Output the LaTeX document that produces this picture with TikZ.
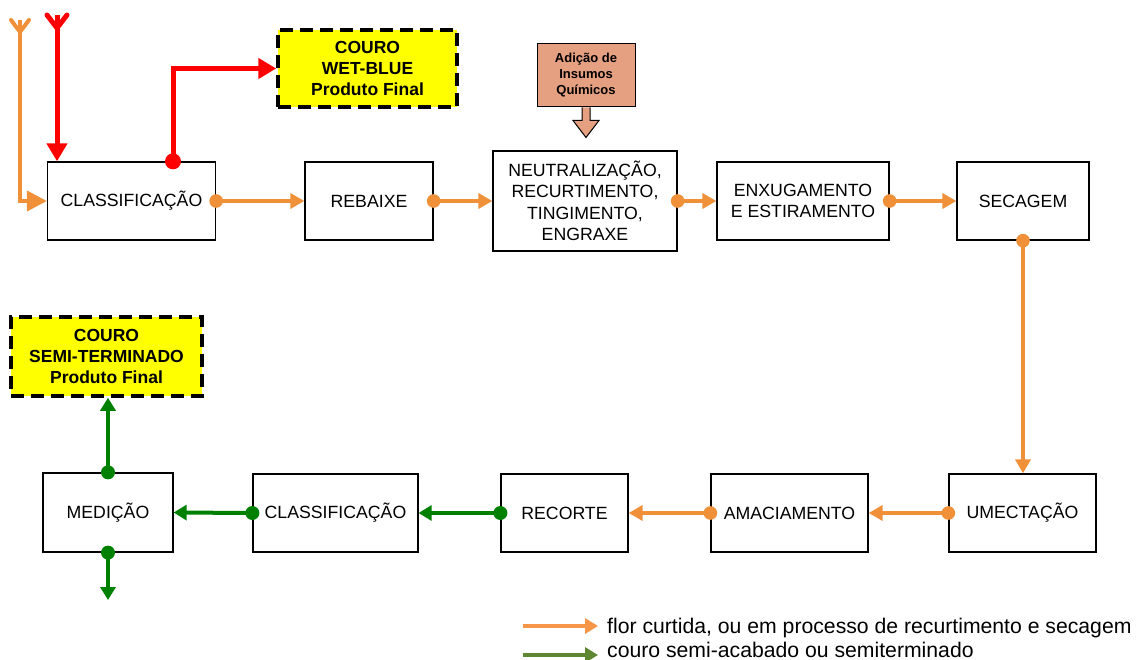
\documentclass[tikz,border=0pt]{standalone}
\usepackage{fontspec}
\setmainfont{Liberation Sans}
\usetikzlibrary{arrows.meta,calc}
\definecolor{cOr}{RGB}{240,145,58}
\definecolor{cRed}{RGB}{255,0,0}
\definecolor{cGr}{RGB}{0,128,0}
\definecolor{cLegOr}{RGB}{247,150,70}
\definecolor{cLegGr}{RGB}{95,135,50}
\definecolor{cSalmon}{RGB}{229,160,130}
\definecolor{cYel}{RGB}{255,255,0}
\begin{document}
\begin{tikzpicture}[x=1pt,y=-1pt,
  box/.style={draw=black,line width=1.3pt,fill=white,align=center,inner sep=2pt,
    font=\fontsize{17.7}{21.5}\selectfont},
  finalbox/.style={draw=black,line width=3.5pt,dash pattern=on 13pt off 7pt,fill=cYel,
    align=center,inner sep=2pt,font=\bfseries\fontsize{17.5}{21}\selectfont},
  inbox/.style={draw=black,line width=1pt,fill=cSalmon,align=center,inner sep=2pt,
    font=\bfseries\fontsize{13}{16}\selectfont},
  orflow/.style={draw=cOr,line width=4pt,-{Triangle[length=14pt,width=15pt]}},
  grflow/.style={draw=cGr,line width=4pt,-{Triangle[length=13pt,width=15pt]}},
  redflow/.style={draw=cRed,line width=5pt,-{Triangle[length=18pt,width=20pt]}},
  ordot/.style={fill=cOr},
  grdot/.style={fill=cGr},
  reddot/.style={fill=cRed},
  legtext/.style={anchor=base west,inner sep=0pt,text depth=0pt,font=\fontsize{21.2}{25}\selectfont},
]
\useasboundingbox (0,0) rectangle (1141,660);

% process boxes
\node[box,minimum width=168pt,minimum height=78pt] (cls1) at (131.5,201) {CLASSIFICAÇÃO};
\node[box,minimum width=128pt,minimum height=78pt] (reb) at (369,201) {REBAIXE};
\node[box,minimum width=184pt,minimum height=100pt] (neu) at (585,201) {NEUTRALIZAÇÃO,\\RECURTIMENTO,\\TINGIMENTO,\\ENGRAXE};
\node[box,minimum width=172pt,minimum height=78pt] (enx) at (803,201) {ENXUGAMENTO\\E ESTIRAMENTO};
\node[box,minimum width=132pt,minimum height=78pt] (sec) at (1023,201) {SECAGEM};
\node[box,minimum width=147pt,minimum height=78pt] (ume) at (1022.5,513) {UMECTAÇÃO};
\node[box,minimum width=157pt,minimum height=78pt] (ama) at (789.5,513) {AMACIAMENTO};
\node[box,minimum width=127pt,minimum height=78pt] (rec) at (564.5,513) {RECORTE};
\node[box,minimum width=165pt,minimum height=78pt] (cls2) at (335.5,513) {CLASSIFICAÇÃO};
\node[box,minimum width=130pt,minimum height=79pt] (med) at (108,512.5) {MEDIÇÃO};

% final products
\node[finalbox,minimum width=179pt,minimum height=77pt] (yel1) at (367.5,68.5) {COURO\\WET-BLUE\\Produto Final};
\node[finalbox,minimum width=191pt,minimum height=79pt] (yel2) at (106.5,356.5) {COURO\\SEMI-TERMINADO\\Produto Final};

% chemical input
\node[inbox,minimum width=98pt,minimum height=63pt] (adi) at (586,75.5) {Adição de\\Insumos\\Químicos};
\draw[line width=1pt,fill=cSalmon] ($(adi.south)+(-4,0)$) -- ($(adi.south)+(-4,13)$) -- ($(adi.south)+(-13,13)$)
  -- ($(adi.south)+(0,30)$) -- ($(adi.south)+(13,13)$) -- ($(adi.south)+(4,13)$) -- ($(adi.south)+(4,0)$);

% free ends
\coordinate (orgtop) at (20,20);
\coordinate (redtop) at (57,15);
\coordinate (medout) at (108,600);
\coordinate (redstart) at ($(cls1.north)+(41.5,0)$);

% incoming
\draw[draw=cOr,line width=4pt,-{Triangle[length=20pt,width=20pt]}] (orgtop) |- (cls1.west);
\draw[cOr,line width=4pt,line cap=round] (orgtop) +(-9,0) -- +(0,12) -- +(9,0);
\draw[redflow] (redtop) -- (redtop |- cls1.north);
\draw[cRed,line width=5pt,line cap=round] (redtop) +(-10,0) -- +(0,13) -- +(10,0);

% wet-blue output
\draw[redflow] (redstart) |- (yel1.west);
\fill[reddot] (redstart) circle (8pt);

% orange flow
\draw[orflow] (cls1.east) -- (reb.west);
\draw[orflow] (reb.east) -- (neu.west);
\draw[orflow] (neu.east) -- (enx.west);
\draw[orflow] (enx.east) -- (sec.west);
\draw[orflow] (sec.south) -- (sec.south |- ume.north);
\draw[orflow] (ume.west) -- (ama.east);
\draw[orflow] (ama.west) -- (rec.east);
\foreach \p in {cls1.east,reb.east,neu.east,enx.east,sec.south,ume.west,ama.west}
  \fill[ordot] (\p) circle (6.8pt);

% green flow
\draw[grflow] (rec.west) -- (cls2.east);
\draw[grflow] (cls2.west) -- (med.east);
\draw[grflow] (med.north) -- (med.north |- yel2.south);
\draw[grflow] (med.south) -- (medout);
\foreach \p in {rec.west,cls2.west,med.north,med.south}
  \fill[grdot] (\p) circle (7pt);

% legend
\node[legtext] (leg1) at (607,633) {flor curtida, ou em processo de recurtimento e secagem};
\node[legtext] (leg2) at (607,657) {couro semi-acabado ou semiterminado};
\coordinate (l1s) at (523,626);
\coordinate (l2s) at (523,655);
\draw[draw=cLegOr,line width=4pt,-{Triangle[length=13pt,width=15pt]}] (l1s) -- ($(l1s -| leg1.west)+(-9,0)$);
\draw[draw=cLegGr,line width=4pt,-{Triangle[length=13pt,width=15pt]}] (l2s) -- ($(l2s -| leg2.west)+(-9,0)$);
\end{tikzpicture}
\end{document}
